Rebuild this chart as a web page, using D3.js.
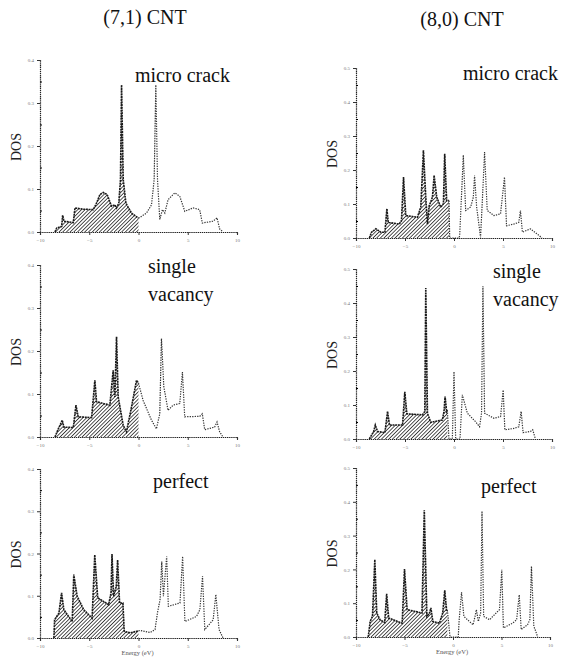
<!DOCTYPE html>
<html>
<head>
<meta charset="utf-8">
<script src="https://cdn.jsdelivr.net/npm/d3@7"></script>
<style>
  body { margin: 0; background: #fff; }
  svg { display: block; }
  text { font-family: "Liberation Serif", "DejaVu Serif", serif; }
</style>
</head>
<body>
<svg id="svg" width="561" height="663"></svg>
<script>
// ---- data: energy (eV) and DOS ----
var energyTicks = [-10, -5, 0, 5, 10];
var dosTicks71 = [0, 0.1, 0.2, 0.3, 0.4];
var dosTicks80 = [0, 0.1, 0.2, 0.3, 0.4, 0.5];

// (7,1) micro crack
var crack71E   = [-8.48,-8.31,-7.80,-7.70,-7.57,-6.62,-6.45,-5.61,-4.59,-4.26,-3.92,-3.58,-3.18,-2.74,-2.40,-2.23,-2.00,-1.83,-1.72,-1.55,-1.28,-0.71,0.00,0.81,1.32,1.59,1.76,1.93,2.16,2.43,2.67,3.00,3.68,4.19,4.53,4.70,5.54,6.21,6.48,7.57,7.97,8.24,8.58];
var crack71Dos = [0,0.009,0.013,0.039,0.025,0.022,0.056,0.053,0.052,0.067,0.087,0.092,0.087,0.060,0.063,0.056,0.067,0.122,0.342,0.122,0.067,0.044,0.032,0.044,0.063,0.122,0.342,0.122,0.029,0.052,0.044,0.075,0.091,0.083,0.060,0.048,0.056,0.052,0.021,0.025,0.033,0.007,0];

// (7,1) single vacancy
var vac71E   = [-8.48,-8.14,-7.74,-7.57,-6.62,-6.35,-6.12,-4.76,-4.43,-4.26,-2.91,-2.57,-2.40,-2.23,-2.06,-1.55,-1.22,-0.71,-0.20,0.00,0.47,1.32,1.82,2.16,2.33,2.57,3.00,3.51,4.19,4.46,4.69,6.21,6.48,6.72,7.73,7.97,8.24,8.58];
var vac71Dos = [0,0.019,0.039,0.023,0.022,0.074,0.047,0.045,0.132,0.082,0.074,0.155,0.093,0.233,0.093,0.027,0.012,0.070,0.132,0.125,0.085,0.039,0.019,0.054,0.229,0.117,0.062,0.074,0.078,0.151,0.047,0.048,0.054,0.017,0.023,0.035,0.012,0];

// (7,1) perfect
var perf71E   = [-8.59,-8.52,-8.08,-7.81,-7.58,-6.73,-6.57,-6.23,-5.56,-4.71,-4.44,-4.14,-3.03,-2.79,-2.69,-2.53,-2.26,-2.12,-1.92,-1.58,-1.45,-0.84,-0.17,0.00,0.17,1.18,1.68,1.92,2.19,2.36,2.53,2.86,3.03,4.21,4.48,4.71,5.89,6.23,6.50,6.73,7.58,7.85,8.18,8.59];
var perf71Dos = [0,0.043,0.059,0.107,0.067,0.039,0.150,0.099,0.067,0.047,0.197,0.095,0.079,0.107,0.199,0.099,0.122,0.185,0.083,0.083,0.016,0.012,0.016,0.017,0.018,0.013,0.020,0.059,0.091,0.181,0.099,0.193,0.075,0.083,0.193,0.039,0.051,0.067,0.146,0.020,0.043,0.103,0.020,0];

// (8,0) micro crack
var crack80E   = [-8.64,-8.41,-7.97,-7.46,-7.05,-6.85,-6.71,-5.59,-5.36,-5.15,-4.92,-3.73,-3.39,-3.12,-2.88,-2.71,-2.54,-2.20,-2.03,-1.76,-1.36,-1.08,-0.95,-0.75,-0.51,-0.44,0.51,0.58,0.68,0.95,1.19,1.70,1.97,2.10,2.31,2.71,2.88,3.12,3.39,4.07,4.75,5.15,5.36,6.10,6.61,6.78,6.98,7.80,8.48,8.98];
var crack80Dos = [0,0.017,0.027,0.017,0.017,0.086,0.046,0.041,0.051,0.179,0.066,0.061,0.091,0.258,0.120,0.041,0.094,0.120,0.184,0.120,0.091,0.101,0.248,0.110,0.110,0,0,0.007,0.071,0.244,0.081,0.091,0.120,0.184,0.091,0.002,0.101,0.253,0.081,0.066,0.071,0.179,0.036,0.041,0.046,0.081,0.017,0.027,0.012,0];

// (8,0) single vacancy
var vac80E   = [-8.64,-8.20,-8.03,-7.80,-7.05,-6.78,-6.58,-5.25,-5.02,-4.81,-3.22,-2.98,-2.88,-2.71,-2.37,-1.19,-1.02,-0.91,-0.75,-0.68,-0.51,-0.17,0.00,0.17,0.61,0.85,1.36,2.20,2.61,2.81,2.95,3.12,4.07,4.75,5.02,5.19,6.10,6.61,6.85,7.05,7.80,8.03,8.31];
var vac80Dos = [0,0.022,0.041,0.022,0.019,0.081,0.041,0.041,0.139,0.074,0.071,0.081,0.444,0.076,0.049,0.056,0.081,0.125,0.081,0.085,0,0,0.198,0,0,0.130,0.076,0.051,0.036,0.076,0.449,0.076,0.061,0.066,0.144,0.027,0.031,0.036,0.081,0.019,0.022,0.027,0];

// (8,0) perfect
var perf80E   = [-8.74,-8.54,-8.30,-8.06,-7.86,-7.52,-7.04,-6.84,-6.63,-5.24,-5.00,-4.73,-3.20,-2.96,-2.69,-2.42,-2.28,-2.08,-1.40,-1.06,-0.85,-0.65,-0.58,-0.31,0.54,0.64,0.88,1.12,2.07,2.27,2.41,2.61,2.85,2.99,3.16,3.77,4.79,5.03,5.20,6.15,6.56,6.83,7.03,7.68,7.92,8.09,8.33,8.53,8.73];
var perf80Dos = [0,0.046,0.061,0.229,0.071,0.051,0.043,0.128,0.056,0.041,0.201,0.081,0.071,0.375,0.061,0.071,0.086,0.046,0.041,0.071,0.138,0.076,0.080,0,0,0.051,0.132,0.061,0.036,0.061,0.081,0.046,0.071,0.372,0.061,0.051,0.081,0.199,0.027,0.041,0.051,0.125,0.022,0.036,0.051,0.209,0.032,0.017,0];

// edge of hatched (occupied) region, eV
var fillEdge = [0, 0, 0, -0.51, -0.68, -0.58];

var svg = d3.select('#svg');

var defs = svg.append('defs');
defs.append('pattern')
    .attr('id', 'hatch')
    .attr('patternUnits', 'userSpaceOnUse')
    .attr('width', 2.6).attr('height', 2.6)
    .attr('patternTransform', 'rotate(45)')
  .append('line')
    .attr('x1', 0).attr('y1', 0).attr('x2', 0).attr('y2', 2.6)
    .attr('stroke', '#1a1a1a').attr('stroke-width', 1.5);

// panel boxes (pixels)
var panels = [
  {E: crack71E, D: crack71Dos, ticks: dosTicks71, left: 40,  right: 237, top: 60,  bottom: 232, label: ['micro crack'], lx: 135, ly: 82},
  {E: vac71E,   D: vac71Dos,   ticks: dosTicks71, left: 40,  right: 237, top: 265, bottom: 437, label: ['single', 'vacancy'], lx: 148, ly: 273},
  {E: perf71E,  D: perf71Dos,  ticks: dosTicks71, left: 40,  right: 237, top: 469, bottom: 638, label: ['perfect'], lx: 153, ly: 488, xlab: true},
  {E: crack80E, D: crack80Dos, ticks: dosTicks80, left: 356, right: 552, top: 68,  bottom: 238, label: ['micro crack'], lx: 463, ly: 80},
  {E: vac80E,   D: vac80Dos,   ticks: dosTicks80, left: 356, right: 552, top: 269, bottom: 439, label: ['single', 'vacancy'], lx: 493, ly: 278},
  {E: perf80E,  D: perf80Dos,  ticks: dosTicks80, left: 356, right: 550, top: 468, bottom: 637, label: ['perfect'], lx: 481, ly: 493, xlab: true}
];

panels.forEach(function(p, i) {
    var pts = p.E.map(function(e, j) { return {e: e, d: p.D[j]}; });
    var edge = fillEdge[i];

    var x = d3.scaleLinear().domain([-10, 10]).range([p.left, p.right]);
    var y = d3.scaleLinear().domain([0, d3.max(p.ticks)]).range([p.bottom, p.top]);

    var filled = pts.filter(function(d) { return d.e <= edge; });
    var empty = pts.filter(function(d) { return d.e >= edge; });
    if (empty.length && filled.length && empty[0].e > filled[filled.length - 1].e) {
        empty.unshift(filled[filled.length - 1]);
    }

    var area = d3.area()
        .x(function(d) { return x(d.e); })
        .y0(y(0))
        .y1(function(d) { return y(d.d); });
    var line = d3.line()
        .x(function(d) { return x(d.e); })
        .y(function(d) { return y(d.d); });

    var g = svg.append('g');

    g.append('path')
        .datum(filled)
        .attr('d', area)
        .attr('fill', 'url(#hatch)')
        .attr('stroke', 'none');
    g.append('path')
        .datum(filled)
        .attr('d', line)
        .attr('fill', 'none')
        .attr('stroke', '#1a1a1a')
        .attr('stroke-width', 1.6)
        .attr('stroke-dasharray', '2,0.7');
    g.append('path')
        .datum(empty)
        .attr('d', line)
        .attr('fill', 'none')
        .attr('stroke', '#333')
        .attr('stroke-width', 1.2)
        .attr('stroke-dasharray', '1.3,1.2');

    // axes
    var xAxis = svg.append('g')
        .attr('transform', 'translate(0,' + p.bottom + ')')
        .call(d3.axisBottom(x).tickValues(energyTicks).tickSize(3).tickFormat(d3.format('d')));
    var yAxis = svg.append('g')
        .attr('transform', 'translate(' + p.left + ',0)')
        .call(d3.axisLeft(y).tickValues(p.ticks).tickSize(3).tickFormat(d3.format('.1f')));
    svg.append('g')
        .attr('transform', 'translate(' + p.left + ',0)')
        .call(d3.axisRight(y).tickValues(d3.range(0.05, d3.max(p.ticks), 0.1)).tickSize(2).tickFormat(''))
        .select('.domain').remove();

    [xAxis, yAxis].forEach(function(a) {
        a.select('.domain').attr('stroke', '#222').attr('stroke-width', 1.2).attr('stroke-dasharray', '1.4,0.7');
        a.selectAll('.tick line').attr('stroke', '#333');
        a.selectAll('.tick text')
            .attr('font-size', 5)
            .attr('fill', '#777')
            .attr('font-family', '"Liberation Serif", serif');
    });

    svg.append('text')
        .attr('transform', 'translate(' + (p.left - 19) + ',' + ((p.top + p.bottom) / 2 + 1) + ') rotate(-90)')
        .attr('text-anchor', 'middle')
        .attr('font-size', 14)
        .attr('fill', '#222')
        .text('DOS');

    p.label.forEach(function(t, k) {
        svg.append('text')
            .attr('x', p.lx)
            .attr('y', p.ly + k * 28)
            .attr('font-size', 20)
            .attr('fill', '#111')
            .text(t);
    });

    if (p.xlab) {
        svg.append('text')
            .attr('x', (p.left + p.right) / 2 - 1)
            .attr('y', p.bottom + 17)
            .attr('text-anchor', 'middle')
            .attr('font-size', 6.5)
            .attr('fill', '#555')
            .text('Energy (eV)');
    }
});

svg.append('text').attr('x', 145).attr('y', 24).attr('text-anchor', 'middle')
    .attr('font-size', 20).attr('fill', '#111').text('(7,1) CNT');
svg.append('text').attr('x', 462).attr('y', 26).attr('text-anchor', 'middle')
    .attr('font-size', 20).attr('fill', '#111').text('(8,0) CNT');
</script>
</body>
</html>
